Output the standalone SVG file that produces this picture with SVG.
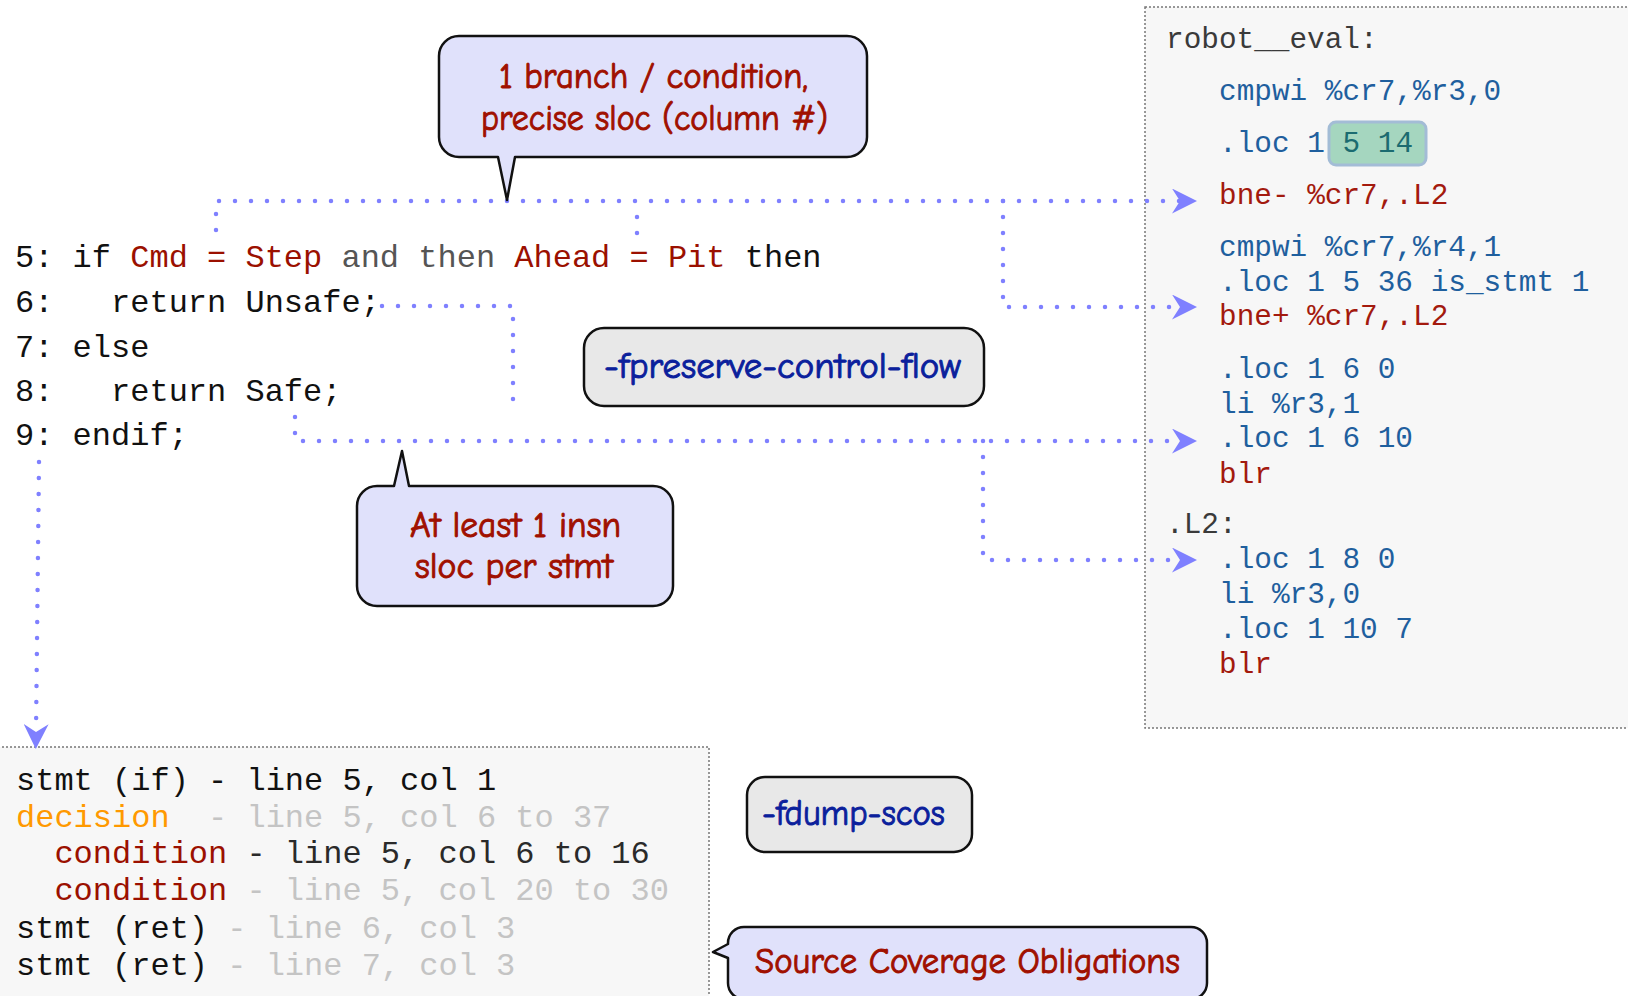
<svg xmlns="http://www.w3.org/2000/svg" width="1628" height="996" viewBox="0 0 1628 996">
  <style>
    .panel { fill: #f7f7f7; stroke: #777; stroke-width: 1.5; stroke-dasharray: 2 2; }
    .callout { fill: #e0e1fb; stroke: #111; stroke-width: 2.5; stroke-linejoin: round; }
    .flag { fill: #e8e8e8; stroke: #111; stroke-width: 2.5; }
    .hand { font-family: "Comic Neue", "Noto Sans", sans-serif; font-size: 37px; font-weight: 400; stroke-width: 1; }
    .note { fill: #a01000; stroke: #a01000; }
    .opt { fill: #0b1f9c; stroke: #0b1f9c; }
    .src { font-family: "Liberation Mono", monospace; font-size: 32px; white-space: pre; fill: #111; }
    .asm { font-family: "Liberation Mono", monospace; font-size: 29.4px; white-space: pre; }
    .lbl { fill: #3a3a3a; }
    .ins { fill: #1f5f9e; }
    .br { fill: #a31a0e; }
    .hl { fill: #1b6b70; }
    .red { fill: #9b1000; }
    .gry { fill: #555; }
    .dim { fill: #c4c4c4; }
    .org { fill: #ff9900; }
    .dk { fill: #2a2a2a; }
    .dots { fill: none; stroke: #7f80ff; stroke-width: 4.5; stroke-linecap: round; stroke-dasharray: 0 16; }
  </style>
  <defs>
    <marker id="dart" viewBox="0 0 25 25" refX="8" refY="12.5" markerWidth="25" markerHeight="25" markerUnits="userSpaceOnUse" orient="auto">
      <path d="M0,0 L25,12.5 L0,25 L8,12.5 Z" fill="#7f80ff"/>
    </marker>
  </defs>

  <rect width="1628" height="996" fill="#ffffff"/>

  <!-- assembly listing -->
  <g id="asm-listing">
    <rect class="panel" x="1145" y="7" width="500" height="721"/>
    <rect x="1329" y="122" width="97" height="43" rx="7" fill="#a5d6bf" stroke="#a3bcd6" stroke-width="3"/>
    <text class="asm lbl" x="1166" y="48">robot__eval:</text>
    <text class="asm ins" x="1219" y="100">cmpwi %cr7,%r3,0</text>
    <text class="asm ins" x="1219" y="152">.loc 1 <tspan class="hl">5 14</tspan></text>
    <text class="asm br" x="1219" y="204">bne- %cr7,.L2</text>
    <text class="asm ins" x="1219" y="256">cmpwi %cr7,%r4,1</text>
    <text class="asm ins" x="1219" y="291">.loc 1 5 36 is_stmt 1</text>
    <text class="asm br" x="1219" y="325">bne+ %cr7,.L2</text>
    <text class="asm ins" x="1219" y="378">.loc 1 6 0</text>
    <text class="asm ins" x="1219" y="413">li %r3,1</text>
    <text class="asm ins" x="1219" y="447">.loc 1 6 10</text>
    <text class="asm br" x="1219" y="483">blr</text>
    <text class="asm lbl" x="1166" y="533">.L2:</text>
    <text class="asm ins" x="1219" y="568">.loc 1 8 0</text>
    <text class="asm ins" x="1219" y="603">li %r3,0</text>
    <text class="asm ins" x="1219" y="638">.loc 1 10 7</text>
    <text class="asm br" x="1219" y="673">blr</text>
  </g>

  <!-- SCO dump -->
  <g id="sco-listing">
    <rect class="panel" x="-10" y="747" width="719" height="270"/>
    <text class="src" x="16" y="790">stmt (if) - line 5, col 1</text>
    <text class="src" x="16" y="827"><tspan class="org">decision</tspan><tspan class="dim">  - line 5, col 6 to 37</tspan></text>
    <text class="src" x="16" y="863">  <tspan class="red">condition</tspan><tspan class="dk"> - line 5, col 6 to 16</tspan></text>
    <text class="src" x="16" y="900">  <tspan class="red">condition</tspan><tspan class="dim"> - line 5, col 20 to 30</tspan></text>
    <text class="src" x="16" y="938">stmt (ret)<tspan class="dim"> - line 6, col 3</tspan></text>
    <text class="src" x="16" y="975">stmt (ret)<tspan class="dim"> - line 7, col 3</tspan></text>
  </g>

  <!-- Ada source -->
  <g id="source">
    <text class="src" x="15" y="267">5: if <tspan class="red">Cmd = Step</tspan><tspan class="gry"> and then </tspan><tspan class="red">Ahead = Pit</tspan> then</text>
    <text class="src" x="15" y="312">6:   return Unsafe;</text>
    <text class="src" x="15" y="357">7: else</text>
    <text class="src" x="15" y="401">8:   return Safe;</text>
    <text class="src" x="15" y="445">9: endif;</text>
  </g>

  <!-- dotted links from source to code -->
  <g id="connectors">
    <path class="dots" d="M216,230 V201 H1180" marker-end="url(#dart)"/>
    <path class="dots" d="M637,233 V201"/>
    <path class="dots" d="M1003,201 V307 H1180" marker-end="url(#dart)"/>
    <path class="dots" d="M382,306 H513 V410"/>
    <path class="dots" d="M295,417 V441 H1180" marker-end="url(#dart)"/>
    <path class="dots" d="M983,441 V560 H1180" marker-end="url(#dart)"/>
    <path class="dots" d="M39,462 L36,732" marker-end="url(#dart)"/>
  </g>

  <g id="note-branch">
    <path class="callout" d="M459,36 H847 A20,20 0 0 1 867,56 V137 A20,20 0 0 1 847,157 H515 L507,200 L498,157 H459 A20,20 0 0 1 439,137 V56 A20,20 0 0 1 459,36 Z"/>
    <text class="hand note" x="499" y="88" textLength="309" lengthAdjust="spacingAndGlyphs">1 branch / condition,</text>
    <text class="hand note" x="481" y="130" textLength="347" lengthAdjust="spacingAndGlyphs">precise sloc (column #)</text>
  </g>

  <g id="flag-preserve">
    <rect class="flag" x="584" y="328" width="400" height="78" rx="20"/>
    <text class="hand opt" x="604" y="378" textLength="357" lengthAdjust="spacingAndGlyphs">-fpreserve-control-flow</text>
  </g>

  <g id="note-insn">
    <path class="callout" d="M377,486 H394 L402,451 L409,486 H653 A20,20 0 0 1 673,506 V586 A20,20 0 0 1 653,606 H377 A20,20 0 0 1 357,586 V506 A20,20 0 0 1 377,486 Z"/>
    <text class="hand note" x="410" y="537" textLength="211" lengthAdjust="spacingAndGlyphs">At least 1 insn</text>
    <text class="hand note" x="415" y="578" textLength="198" lengthAdjust="spacingAndGlyphs">sloc per stmt</text>
  </g>

  <g id="flag-scos">
    <rect class="flag" x="747" y="777" width="225" height="75" rx="18"/>
    <text class="hand opt" x="762" y="825" textLength="183" lengthAdjust="spacingAndGlyphs">-fdump-scos</text>
  </g>

  <g id="note-sco">
    <path class="callout" d="M744,927 H1191 A16,16 0 0 1 1207,943 V983 A16,16 0 0 1 1191,999 H744 A16,16 0 0 1 728,983 V958 L713,952 L728,944 V943 A16,16 0 0 1 744,927 Z"/>
    <text class="hand note" x="755" y="973" textLength="425" lengthAdjust="spacingAndGlyphs">Source Coverage Obligations</text>
  </g>
</svg>
